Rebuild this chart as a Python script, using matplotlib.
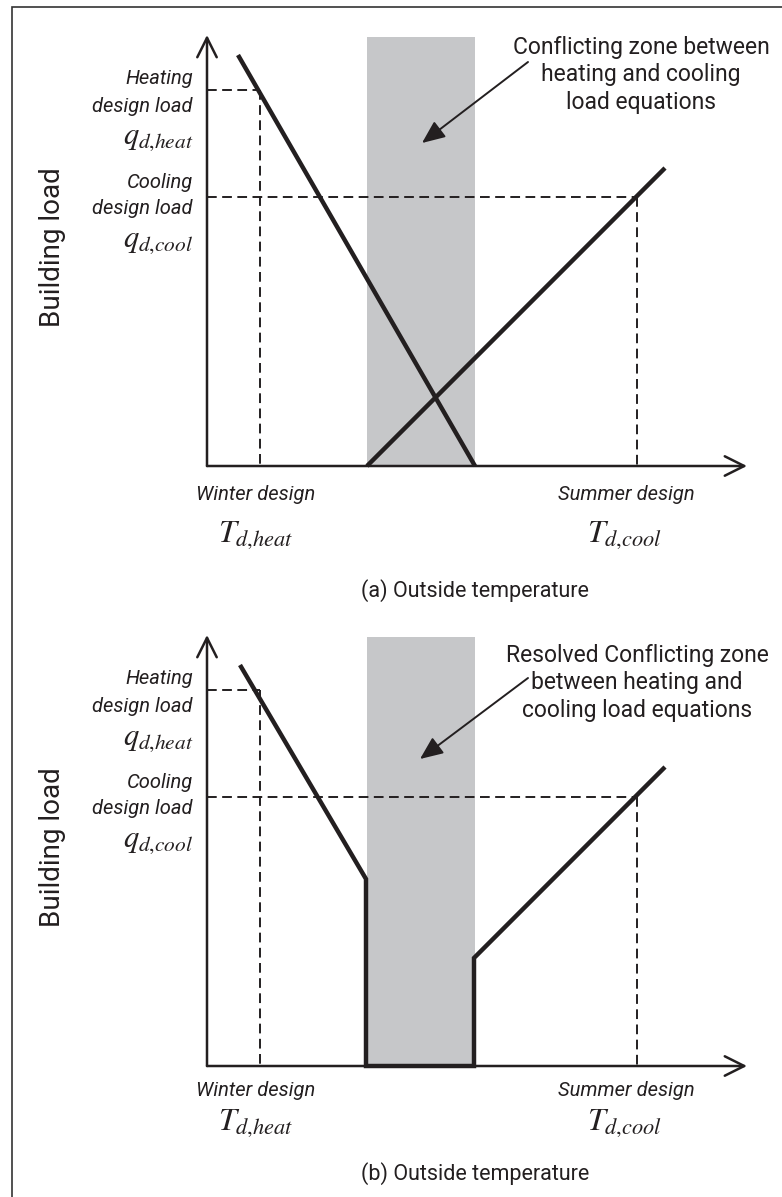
import matplotlib
matplotlib.use("Agg")
import matplotlib.pyplot as plt
from matplotlib.patches import Rectangle

plt.rcParams['font.family'] = ['Roboto', 'DejaVu Sans']
plt.rcParams['mathtext.fontset'] = 'stix'

# schematic values (arbitrary units)
t_heat = 0.53
t_cool = 4.30
q_heat = 3.76
q_cool = 2.69
zone_lo, zone_hi, zone_top = 1.60, 2.68, 4.29

heat_a_x = [0.31, 2.68]
heat_a_y = [4.11, 0.0]
cool_a_x = [1.60, 4.58]
cool_a_y = [0.0, 2.98]

load_b_x = [0.33, 1.59, 1.59, 2.67, 2.67, 4.58]
load_b_y = [4.01, 1.87, 0.0, 0.0, 1.08, 2.99]

x_end, y_end = 5.40, 4.31

captions = ["(a) Outside temperature", "(b) Outside temperature"]
notes = ["Conflicting zone between\nheating and cooling\nload equations",
         "Resolved Conflicting zone\nbetween heating and\ncooling load equations"]
note_xy = [(4.34, 3.91), (4.30, 3.83)]
arrow_tail = [(3.21, 4.04), (3.21, 3.88)]
arrow_tip = [(2.15, 3.23), (2.13, 3.07)]
# vertical offsets of the bottom labels, per panel
design_y = [-0.29, -0.24]
tsym_y = [-0.69, -0.57]
caption_y = [-1.25, -1.08]

ink = "#231f20"
grey = "#c6c7c9"

W, H = 782, 1197
fig = plt.figure(figsize=(W / 100, H / 100), dpi=100)
fig.add_artist(Rectangle((12 / W, -0.02), 1.0, (H - 7) / H + 0.02,
                         transform=fig.transFigure, fill=False, lw=1.2, ec="#333333"))

origins = [466, 1066]
axes = []
for oy in origins:
    ax = fig.add_axes([207 / W, (H - oy) / H, 540 / W, 431 / H])
    ax.set_xlim(0, x_end)
    ax.set_ylim(0, y_end)
    ax.axis("off")
    axes.append(ax)


def draw_frame(ax, i):
    ax.fill_between([zone_lo, zone_hi], 0, zone_top, color=grey, lw=0, zorder=0)

    # axes with open arrow heads
    arr = dict(arrowstyle="->, head_length=1.4, head_width=0.7", lw=1.8, color=ink,
               mutation_scale=10, shrinkA=0, shrinkB=0)
    ax.annotate("", xy=(x_end, 0), xytext=(0, 0), arrowprops=arr, annotation_clip=False)
    ax.annotate("", xy=(0, y_end), xytext=(0, 0), arrowprops=arr, annotation_clip=False)

    # design dashed guides
    dash = dict(color=ink, lw=1.4, ls=(0, (5, 2.8)), clip_on=False)
    ax.plot([0, t_heat], [q_heat, q_heat], **dash)
    ax.plot([t_heat, t_heat], [q_heat, 0], **dash)
    ax.plot([0, t_cool], [q_cool, q_cool], **dash)
    ax.plot([t_cool, t_cool], [q_cool, 0], **dash)

    # left labels
    lab = dict(ha="right", va="center", fontsize=14.5, style="italic", color=ink)
    ax.text(-0.14, 3.88, "Heating", **lab)
    ax.text(-0.14, 3.59, "design load", **lab)
    ax.text(-0.14, 3.27, r"$q_{d{,}heat}$", ha="right", va="center", fontsize=22, color=ink)
    ax.text(-0.14, 2.83, "Cooling", **lab)
    ax.text(-0.14, 2.57, "design load", **lab)
    ax.text(-0.14, 2.24, r"$q_{d{,}cool}$", ha="right", va="center", fontsize=22, color=ink)

    ax.text(-1.54, 2.19, "Building load", rotation=90, ha="center", va="center",
            fontsize=20, color=ink)

    # bottom labels
    bot = dict(ha="center", va="center", fontsize=14.5, style="italic", color=ink)
    ax.text(0.49, design_y[i], "Winter design", **bot)
    ax.text(4.19, design_y[i], "Summer design", **bot)
    ax.text(0.49, tsym_y[i], r"$T_{d{,}heat}$", ha="center", va="center", fontsize=23, color=ink)
    ax.text(4.18, tsym_y[i], r"$T_{d{,}cool}$", ha="center", va="center", fontsize=23, color=ink)

    ax.text(2.68, caption_y[i], captions[i], ha="center", va="center", fontsize=15.5, color=ink)

    ax.text(note_xy[i][0], note_xy[i][1], notes[i], ha="center", va="center",
            multialignment="center", fontsize=16.5, color=ink, linespacing=1.25)
    ax.annotate("", xy=arrow_tip[i], xytext=arrow_tail[i],
                arrowprops=dict(arrowstyle="-|>, head_length=0.7, head_width=0.3",
                                lw=1.4, color=ink, mutation_scale=20, shrinkA=0, shrinkB=0))


for i, ax in enumerate(axes):
    draw_frame(ax, i)

thick = dict(color=ink, lw=3.2, solid_joinstyle="miter", solid_capstyle="butt", clip_on=False)
axes[0].plot(heat_a_x, heat_a_y, **thick)
axes[0].plot(cool_a_x, cool_a_y, **thick)
axes[1].plot(load_b_x, load_b_y, **thick)

fig.savefig("out.png", dpi=100)
